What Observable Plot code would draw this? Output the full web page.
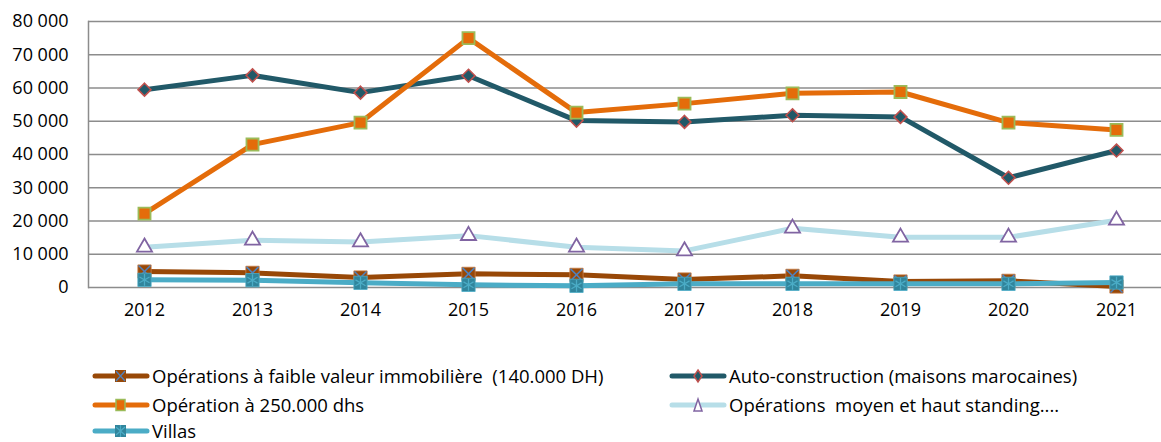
<!DOCTYPE html>
<html><head><meta charset="utf-8">
<script src="https://cdn.jsdelivr.net/npm/d3@7"></script>
<script src="https://cdn.jsdelivr.net/npm/@observablehq/plot@0.6"></script>
<style>
body{margin:0;background:#fff;font-family:"Open Sans",sans-serif;}
#wrap{position:relative;width:1161px;height:442px;overflow:hidden;}
#legend{position:absolute;left:0;top:0;width:1161px;height:442px;pointer-events:none;}
.item{position:absolute;display:flex;align-items:center;font-size:18.5px;line-height:18px;color:#000;white-space:pre;height:18px;}
.item svg{display:block;margin-right:2px;}
</style></head>
<body><div id="wrap"><div id="chart"></div><div id="legend"></div></div>
<script>
const years = ["2012","2013","2014","2015","2016","2017","2018","2019","2020","2021"];
const faible   = [4800, 4400, 3000, 4100, 3800, 2400, 3500, 1800, 2000, 300];
const autoCons = [59500, 63800, 58600, 63700, 50200, 49800, 51800, 51300, 33000, 41200];
const op250    = [22200, 43000, 49600, 75000, 52600, 55300, 58400, 58800, 49600, 47400];
const standing = [12100, 14200, 13700, 15600, 12100, 11000, 17800, 15100, 15100, 20200];
const villas   = [2300, 2200, 1400, 800, 500, 1100, 1100, 1100, 1100, 1500];
const yTicks = [0,10000,20000,30000,40000,50000,60000,70000,80000];
const seriesNames = [
  "Opérations à faible valeur immobilière  (140.000 DH)",
  "Auto-construction (maisons marocaines)",
  "Opération à 250.000 dhs",
  "Opérations  moyen et haut standing....",
  "Villas"
];

const rows = (vals) => years.map((y,i)=>({year:y, value:vals[i]}));
const dFaible = rows(faible), dAuto = rows(autoCons), dOp = rows(op250), dStand = rows(standing), dVillas = rows(villas);
const fmt = d => d3.format(",")(d).replace(/,/g, "\u00a0");

const chart = Plot.plot({
  width: 1161, height: 330,
  marginLeft: 88, marginRight: 0, marginTop: 21, marginBottom: 43,
  style: {fontFamily: "Open Sans", fontSize: "18px", color: "#000", background: "#fff", overflow: "visible"},
  x: {type: "point", domain: years, range: [142, 1117], padding: 0, label: null},
  y: {domain: [0, 80000], label: null},
  marks: [
    Plot.ruleY(yTicks, {stroke: "#8c8c8c", strokeWidth: 1.5}),
    Plot.frame({anchor: "left", stroke: "#8c8c8c", strokeWidth: 1.5}),
    Plot.axisY({ticks: yTicks, tickSize: 0, tickPadding: 20, tickFormat: fmt, label: null, fontSize: 18}),
    Plot.axisX({tickSize: 0, tickPadding: 16, label: null, fontSize: 18}),
    // faible valeur
    Plot.line(dFaible, {x: "year", y: "value", stroke: "#984807", strokeWidth: 5}),
    Plot.dot(dFaible, {x: "year", y: "value", symbol: "square", r: 7.5, fill: "#984807", stroke: "#c9804a", strokeWidth: 0.8}),
    Plot.dot(dFaible, {x: "year", y: "value", symbol: "times", r: 5.5, stroke: "#4F81BD", strokeWidth: 1.5}),
    // auto-construction
    Plot.line(dAuto, {x: "year", y: "value", stroke: "#215968", strokeWidth: 5}),
    Plot.dot(dAuto, {x: "year", y: "value", symbol: "diamond2", r: 5.8, fill: "#215968", stroke: "#C0504D", strokeWidth: 1.6}),
    // 250.000
    Plot.line(dOp, {x: "year", y: "value", stroke: "#E46C0A", strokeWidth: 5}),
    Plot.dot(dOp, {x: "year", y: "value", symbol: "square", r: 6.8, fill: "#E46C0A", stroke: "#9BBB59", strokeWidth: 1.8}),
    // standing
    Plot.line(dStand, {x: "year", y: "value", stroke: "#B7DEE8", strokeWidth: 5}),
    Plot.dot(dStand, {x: "year", y: "value", symbol: "triangle", r: 5.6, fill: "#fff", stroke: "#8064A2", strokeWidth: 1.8}),
    // villas
    Plot.line(dVillas, {x: "year", y: "value", stroke: "#4BACC6", strokeWidth: 5}),
    Plot.dot(dVillas, {x: "year", y: "value", symbol: "square", r: 7.5, fill: "#31859C", stroke: "#4BACC6", strokeWidth: 0.8}),
    Plot.dot(dVillas, {x: "year", y: "value", symbol: "asterisk", r: 5.5, stroke: "#4BACC6", strokeWidth: 1.3})
  ]
});
document.getElementById("chart").appendChild(chart);

// legend
const legendItems = [
  {name: seriesNames[0], line: "#984807", left: 92, top: 376, marker: "x"},
  {name: seriesNames[1], line: "#215968", left: 669, top: 376, marker: "diamond"},
  {name: seriesNames[2], line: "#E46C0A", left: 92, top: 405, marker: "square"},
  {name: seriesNames[3], line: "#B7DEE8", left: 669, top: 405, marker: "triangle"},
  {name: seriesNames[4], line: "#4BACC6", left: 92, top: 431, marker: "star"}
];
const legend = document.getElementById("legend");
for (const it of legendItems) {
  const div = document.createElement("div");
  div.className = "item";
  div.style.left = it.left + "px";
  div.style.top = (it.top - 9) + "px";
  let m = "";
  if (it.marker === "x") m = `<rect x="23" y="3" width="11" height="12" fill="#984807"/><path d="M24,4 L33,14 M33,4 L24,14" stroke="#4F81BD" stroke-width="1.3"/>`;
  if (it.marker === "diamond") m = `<path d="M29,3 L33,9 L29,15 L25,9Z" fill="#215968" stroke="#C0504D" stroke-width="1.5"/>`;
  if (it.marker === "square") m = `<rect x="24" y="3.5" width="9" height="11" fill="#E46C0A" stroke="#9BBB59" stroke-width="1.5"/>`;
  if (it.marker === "triangle") m = `<path d="M29,3 L33,15 L25,15Z" fill="#fff" stroke="#8064A2" stroke-width="1.5"/>`;
  if (it.marker === "star") m = `<rect x="23" y="3" width="11" height="12" fill="#31859C"/><path d="M28.5,3 L28.5,15 M24,5 L33,13 M33,5 L24,13" stroke="#4BACC6" stroke-width="1.2"/>`;
  div.innerHTML = `<svg width="58" height="18"><line x1="3" x2="55" y1="9" y2="9" stroke="${it.line}" stroke-width="5" stroke-linecap="round"/>${m}</svg><span></span>`;
  div.querySelector("span").textContent = it.name;
  legend.appendChild(div);
}
</script></body></html>
